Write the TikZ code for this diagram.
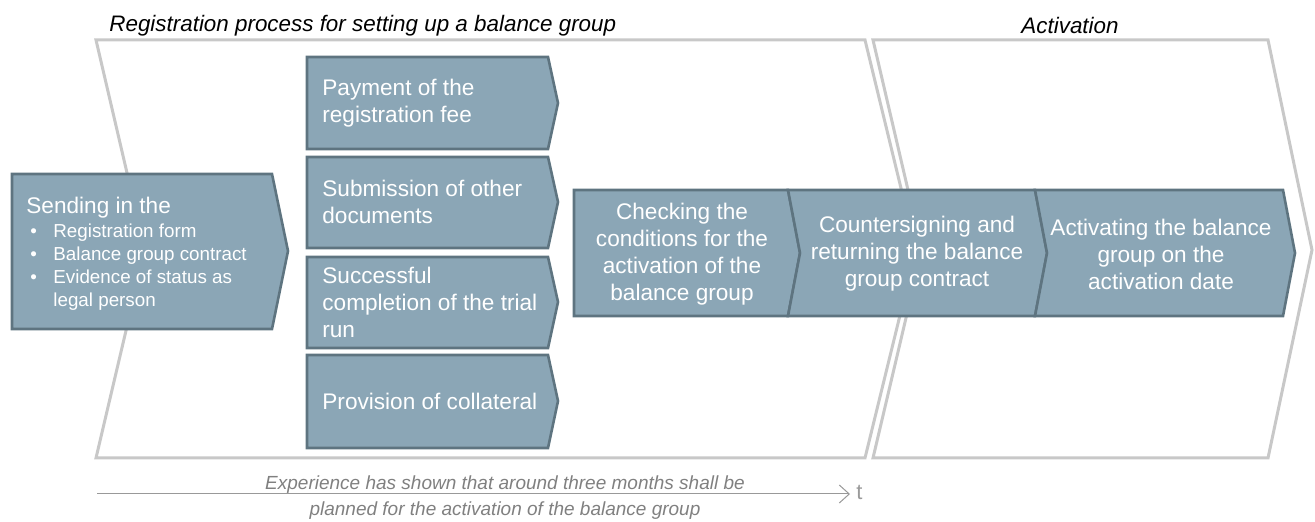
\documentclass[tikz,border=0pt]{standalone}
\usepackage{fontspec}
\setmainfont{Liberation Sans}
\usetikzlibrary{arrows.meta}

\definecolor{boxblue}{RGB}{139,166,182}
\definecolor{boxedge}{RGB}{94,116,128}
\definecolor{phasegray}{RGB}{200,200,200}
\definecolor{notegray}{RGB}{128,128,128}

\newcommand{\listdot}{\makebox[11.5pt][l]{\textbullet}}

\tikzset{
    procbox/.style={fill=boxblue, draw=boxedge, line width=1.3pt, line join=miter},
    boxtext/.style={text=white, font=\fontsize{11.3}{13.5}\selectfont, inner sep=0pt},
    phase/.style={draw=phasegray, line width=1.5pt, line join=miter},
    phasetitle/.style={font=\fontsize{11.2}{13}\selectfont\itshape, inner sep=0pt},
    timearrow/.style={draw=notegray!80, line width=0.5pt, -{Straight Barb[length=5pt,width=9pt]}}
}

\begin{document}
\begin{tikzpicture}[x=0.5pt, y=-0.5pt]
    \useasboundingbox (0,0) rectangle (1315,522);

    % Phases
    \draw[phase] (96,40) -- (865,40) -- (916,250) -- (865,458) -- (96,458) -- (145,250) -- cycle;
    \draw[phase] (873,40) -- (1268,40) -- (1312,250) -- (1268,458) -- (873,458) -- (922,250) -- cycle;
    \node[phasetitle, anchor=west] (regtitle) at (109,26) {Registration process for setting up a balance group};
    \node[phasetitle] (acttitle) at (1070,26) {Activation};

    % Sending in
    \draw[procbox] (12,174) -- (272,174) -- (288,251) -- (272,329) -- (12,329) -- cycle;
    \node[boxtext, anchor=west] (send) at (26,208) {Sending in the};
    \node[boxtext, anchor=west, align=left, font=\fontsize{9.4}{11.5}\selectfont] (sendlist) at (30,267)
        {\listdot Registration form\\ \listdot Balance group contract\\ \listdot Evidence of status as\\ \hspace{11.5pt}legal person};

    % Parallel steps
    \foreach \top/\mid/\bot/\name/\txt in {
        57/103/149/fee/{Payment of the\\registration fee},
        157/202/248/docs/{Submission of other\\documents},
        257/302/348/trial/{Successful\\completion of the trial\\run},
        355/401/448/coll/{Provision of collateral}} {
        \draw[procbox] (307,\top) -- (548,\top) -- (558,\mid) -- (548,\bot) -- (307,\bot) -- cycle;
        \node[boxtext, anchor=west, align=left] (\name) at (322,\mid) {\txt};
    }

    % Following steps
    \draw[procbox] (574,190) -- (788,190) -- (800,253) -- (788,316) -- (574,316) -- cycle;
    \draw[procbox] (788,190) -- (1035,190) -- (1047,253) -- (1035,316) -- (788,316) -- (800,253) -- cycle;
    \draw[procbox] (1035,190) -- (1283,190) -- (1295,253) -- (1283,316) -- (1035,316) -- (1047,253) -- cycle;
    \node[boxtext, align=center] (check) at (682,254) {Checking the\\conditions for the\\activation of the\\balance group};
    \node[boxtext, align=center] (counter) at (917,254) {Countersigning and\\returning the balance\\group contract};
    \node[boxtext, align=center] (activate) at (1161,254) {Activating the balance\\group on the\\activation date};

    % Time line
    \coordinate (tstart) at (97,494);
    \node[text=notegray!80, font=\fontsize{11}{13}\selectfont, anchor=west, inner sep=3pt] (tlabel) at (850,492) {t};
    \draw[timearrow] (tstart) -- (tstart -| tlabel.west);
    \node[text=notegray, font=\fontsize{9.5}{13}\selectfont\itshape, align=center] (note) at (505,498)
        {Experience has shown that around three months shall be\\planned for the activation of the balance group};
\end{tikzpicture}
\end{document}
